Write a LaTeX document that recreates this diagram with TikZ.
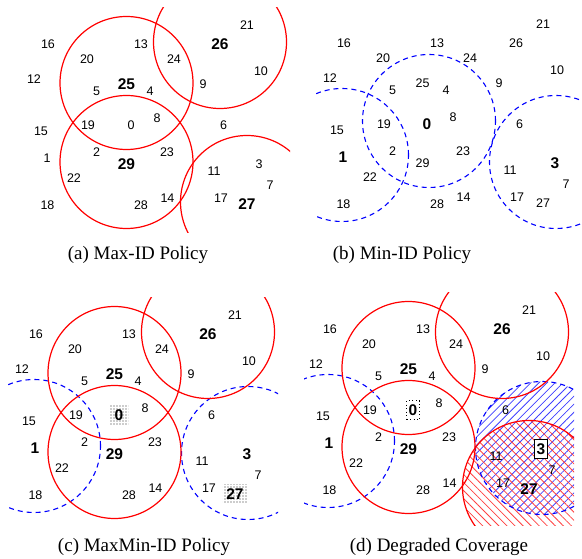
\documentclass[tikz,border=0pt]{standalone}
\usepackage{fontspec}
\setmainfont{Liberation Serif}
\newfontfamily\numfont{Liberation Sans}
\usetikzlibrary{patterns,patterns.meta}
\tikzset{
  num/.style={font=\numfont\fontsize{12.5}{14}\selectfont, inner sep=0pt},
  bnum/.style={font=\numfont\bfseries\fontsize{15.5}{17}\selectfont, inner sep=0pt},
  redc/.style={draw=red, line width=1.2pt},
  bluec/.style={draw=blue, line width=1.1pt, dash pattern=on 5pt off 4pt},
  capt/.style={font=\fontsize{19}{22}\selectfont, inner sep=0pt},
  dotbox/.style={pattern={Dots[distance=3pt,radius=0.6pt]}, pattern color=black!85},
  dotframe/.style={draw=black, line width=0.9pt, dash pattern=on 0.9pt off 2.6pt},
  headbox/.style={draw=black, line width=0.8pt, fill=white},
  bluehatch/.style={pattern={Lines[angle=45,distance=5.7pt,line width=0.8pt]}, pattern color=blue!75},
  redhatch/.style={pattern={Lines[angle=-45,distance=5.7pt,line width=0.8pt]}, pattern color=red!75},
}
\newcommand\basecoords{%
  \foreach \n/\px/\py in {16/48/44.5, 20/87/59, 13/141/44.5, 24/174/59, 26/220/44,
      21/247/25, 10/261/71, 12/34/79, 25/126.5/84, 5/96.5/91.5, 4/150/91.5,
      9/203/84, 15/41/131.5, 19/88/125, 0/131/125, 8/157/118, 6/223.5/125,
      1/47/158, 2/96.5/152, 29/126.5/164, 23/167/152, 11/214/171.5, 3/259/164,
      7/270/185, 22/74/178, 18/47.5/205, 28/141/205, 14/167.5/198, 17/221/198,
      27/247/204}
    {\coordinate (p\n) at (\px,\py);}
  \coordinate (c25) at (126.5,83);
  \coordinate (c29) at (126.5,162);
  \coordinate (c26) at (220,42);
  \coordinate (c27) at (247,202);
  \coordinate (c0) at (133,122);
  \coordinate (c1) at (46,156);
  \coordinate (c3) at (260,163);
}
\def\R{66.5pt}
\begin{document}
\begin{tikzpicture}[x=1pt,y=-1pt]
\useasboundingbox (0,0) rectangle (582,559);

% (a) Max-ID Policy
\begin{scope}[shift={(0,0)}]
  \basecoords
  \begin{scope}
    \clip (20,8) rectangle (290,233);
    \draw[redc] (c25) circle[radius=\R];
    \draw[redc] (c29) circle[radius=\R];
    \draw[redc] (c26) circle[radius=\R];
    \draw[redc] (c27) circle[radius=\R];
  \end{scope}
  \foreach \n in {0,1,2,3,4,5,6,7,8,9,10,11,12,13,14,15,16,17,18,19,20,21,22,23,24,28}
    {\node[num] (a\n) at (p\n) {\n};}
  \foreach \n in {25,26,27,29}
    {\node[bnum] (a\n) at (p\n) {\n};}
\end{scope}
\node[capt] (capa) at (138,255) {(a) Max-ID Policy};

% (b) Min-ID Policy
\begin{scope}[shift={(296,-1)}]
  \basecoords
  \begin{scope}
    \clip (20,8) rectangle (285.5,233);
    \draw[bluec] (c0) circle[radius=\R];
    \draw[bluec] (c1) circle[radius=\R];
    \draw[bluec] (c3) circle[radius=\R];
  \end{scope}
  \foreach \n in {2,4,5,6,7,8,9,10,11,12,13,14,15,16,17,18,19,20,21,22,23,24,25,26,27,28,29}
    {\node[num] (b\n) at (p\n) {\n};}
  \foreach \n in {0,1,3}
    {\node[bnum] (b\n) at (p\n) {\n};}
\end{scope}
\node[capt] (capb) at (402,255) {(b) Min-ID Policy};

% (c) MaxMin-ID Policy
\begin{scope}[shift={(-12,290)}]
  \basecoords
  \begin{scope}
    \clip (20,8) rectangle (290,240);
    \draw[bluec] (c1) circle[radius=\R];
    \draw[bluec] (c3) circle[radius=\R];
    \draw[redc] (c25) circle[radius=\R];
    \draw[redc] (c29) circle[radius=\R];
    \draw[redc] (c26) circle[radius=\R];
  \end{scope}
  \foreach \n in {2,4,5,6,7,8,9,10,11,12,13,14,15,16,17,18,19,20,21,22,23,24,28}
    {\node[num] (c\n) at (p\n) {\n};}
  \foreach \n in {1,3,25,26,29}
    {\node[bnum] (c\n) at (p\n) {\n};}
  \node[bnum, dotbox, minimum width=19pt, minimum height=20pt] (cc0) at (p0) {0};
  \node[bnum, dotbox, minimum width=25pt, minimum height=19pt] (cc27) at (p27) {27};
\end{scope}
\node[capt] (capc) at (144,547) {(c) MaxMin-ID Policy};

% (d) Degraded Coverage
\begin{scope}[shift={(282,285)}]
  \basecoords
  \coordinate (c26) at (220,47);
  \begin{scope}
    \clip (22,8) rectangle (292,240);
    \fill[bluehatch] (c3) circle[radius=\R];
    \fill[redhatch] (c27) circle[radius=\R];
    \draw[bluec] (c1) circle[radius=\R];
    \draw[bluec] (c3) circle[radius=\R];
    \draw[redc] (c25) circle[radius=\R];
    \draw[redc] (c29) circle[radius=\R];
    \draw[redc] (c26) circle[radius=\R];
    \draw[redc] (c27) circle[radius=\R];
  \end{scope}
  \foreach \n in {2,4,5,6,7,8,9,10,11,12,13,14,15,16,17,18,19,20,21,22,23,24,28}
    {\node[num] (d\n) at (p\n) {\n};}
  \foreach \n in {1,25,26,27,29}
    {\node[bnum] (d\n) at (p\n) {\n};}
  \node[bnum, dotframe, minimum width=13pt, minimum height=19pt] (d0) at (p0) {0};
  \node[bnum, headbox, minimum width=13pt, minimum height=19pt] (d3) at (p3) {3};
\end{scope}
\node[capt] (capd) at (439,547) {(d) Degraded Coverage};
\end{tikzpicture}
\end{document}
